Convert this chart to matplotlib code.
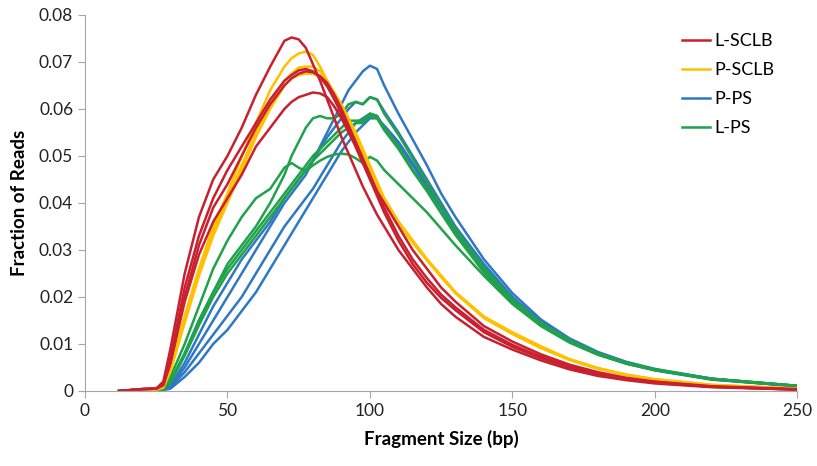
import matplotlib
matplotlib.use('Agg')
import matplotlib.pyplot as plt
from matplotlib.ticker import FixedLocator

plt.rcParams['font.family'] = ['Lato', 'DejaVu Sans']

# fragment size grid (bp)
sizes = [12, 20, 25, 27.5, 30, 35, 40, 45, 50, 55, 60, 65, 70, 72.5, 75, 77.5,
         80, 82.5, 85, 87.5, 90, 92.5, 95, 97.5, 100, 102.5, 105, 110, 115,
         120, 125, 130, 140, 150, 160, 170, 180, 190, 200, 220, 250]

# L-SCLB samples (red)
l_sclb_1 = [0, 0.0004, 0.0005, 0.002, 0.009, 0.025, 0.037, 0.045, 0.050, 0.056,
            0.063, 0.069, 0.0745, 0.0752, 0.0748, 0.073, 0.0695, 0.066, 0.062,
            0.058, 0.054, 0.0505, 0.047, 0.0435, 0.0405, 0.0375, 0.035, 0.030,
            0.026, 0.022, 0.0185, 0.0158, 0.0115, 0.0088, 0.0065, 0.0046,
            0.0032, 0.0023, 0.0016, 0.0008, 0.0003]
l_sclb_2 = [0, 0.0004, 0.0005, 0.0015, 0.007, 0.022, 0.033, 0.041, 0.047, 0.052,
            0.057, 0.062, 0.066, 0.0672, 0.0682, 0.0685, 0.068, 0.0668, 0.0648,
            0.062, 0.059, 0.0555, 0.052, 0.0485, 0.045, 0.0415, 0.038, 0.032,
            0.027, 0.023, 0.0198, 0.0172, 0.0125, 0.0094, 0.007, 0.005,
            0.0035, 0.0025, 0.0018, 0.0009, 0.0003]
l_sclb_3 = [0, 0.0004, 0.0005, 0.0015, 0.006, 0.020, 0.031, 0.039, 0.044, 0.050,
            0.056, 0.061, 0.065, 0.0665, 0.0675, 0.068, 0.0678, 0.067, 0.0655,
            0.063, 0.060, 0.0565, 0.053, 0.0495, 0.046, 0.0425, 0.039, 0.033,
            0.028, 0.024, 0.0205, 0.0178, 0.013, 0.0098, 0.0073, 0.0052,
            0.0037, 0.0026, 0.0019, 0.0009, 0.0003]
l_sclb_4 = [0, 0.0004, 0.0005, 0.0012, 0.006, 0.019, 0.029, 0.036, 0.041, 0.046,
            0.052, 0.056, 0.060, 0.0615, 0.0625, 0.063, 0.0635, 0.0633, 0.0625,
            0.0605, 0.058, 0.055, 0.052, 0.0485, 0.0455, 0.0425, 0.040, 0.035,
            0.030, 0.026, 0.022, 0.019, 0.0138, 0.0105, 0.0078, 0.0056,
            0.004, 0.0028, 0.002, 0.001, 0.0004]

# P-SCLB samples (yellow)
p_sclb_1 = [0, 0.0002, 0.0003, 0.0008, 0.005, 0.016, 0.026, 0.035, 0.042, 0.050,
            0.057, 0.064, 0.069, 0.0708, 0.0718, 0.0722, 0.0715, 0.069, 0.066,
            0.063, 0.060, 0.057, 0.054, 0.0505, 0.047, 0.044, 0.041, 0.036,
            0.032, 0.028, 0.0245, 0.021, 0.0158, 0.0125, 0.0095, 0.0068,
            0.0049, 0.0035, 0.0025, 0.0013, 0.0005]
p_sclb_2 = [0, 0.0002, 0.0003, 0.0008, 0.0045, 0.015, 0.025, 0.034, 0.041, 0.048,
            0.055, 0.061, 0.066, 0.0675, 0.0688, 0.069, 0.069, 0.068, 0.066,
            0.0635, 0.061, 0.058, 0.055, 0.0515, 0.048, 0.0445, 0.041, 0.036,
            0.032, 0.028, 0.0245, 0.021, 0.0158, 0.0123, 0.0093, 0.0067,
            0.0048, 0.0034, 0.0025, 0.0013, 0.0005]
p_sclb_3 = [0, 0.0002, 0.0003, 0.0007, 0.0042, 0.0145, 0.0245, 0.033, 0.040, 0.047,
            0.054, 0.060, 0.065, 0.0665, 0.0672, 0.0675, 0.0675, 0.0667, 0.065,
            0.0628, 0.060, 0.057, 0.054, 0.051, 0.0475, 0.044, 0.0405, 0.0355,
            0.0315, 0.0278, 0.0242, 0.0208, 0.0155, 0.0121, 0.0091, 0.0066,
            0.0047, 0.0034, 0.0024, 0.0012, 0.0005]

# P-PS samples (blue)
p_ps_1 = [0, 0, 0, 0.0004, 0.001, 0.005, 0.010, 0.015, 0.020, 0.025,
          0.030, 0.035, 0.040, 0.042, 0.044, 0.046, 0.049, 0.052, 0.055,
          0.058, 0.061, 0.064, 0.066, 0.068, 0.0692, 0.0685, 0.065, 0.059,
          0.0535, 0.048, 0.042, 0.037, 0.028, 0.0208, 0.0152, 0.0112,
          0.0083, 0.0062, 0.0047, 0.0026, 0.001]
p_ps_2 = [0, 0, 0, 0.0004, 0.0012, 0.006, 0.012, 0.018, 0.023, 0.028,
          0.032, 0.036, 0.041, 0.043, 0.045, 0.047, 0.049, 0.0515, 0.054,
          0.056, 0.058, 0.060, 0.0615, 0.061, 0.0625, 0.062, 0.0595, 0.055,
          0.050, 0.045, 0.040, 0.035, 0.027, 0.020, 0.0147, 0.0108,
          0.008, 0.006, 0.0045, 0.0025, 0.001]
p_ps_3 = [0, 0, 0, 0.0003, 0.0008, 0.004, 0.008, 0.012, 0.016, 0.020,
          0.025, 0.030, 0.035, 0.037, 0.039, 0.041, 0.043, 0.0455, 0.048,
          0.0505, 0.053, 0.055, 0.057, 0.058, 0.059, 0.0585, 0.056, 0.0525,
          0.048, 0.0435, 0.039, 0.034, 0.026, 0.0195, 0.0143, 0.0105,
          0.0078, 0.0058, 0.0044, 0.0024, 0.001]
p_ps_4 = [0, 0, 0, 0.0002, 0.0005, 0.003, 0.006, 0.010, 0.013, 0.017,
          0.021, 0.026, 0.031, 0.0335, 0.036, 0.0385, 0.041, 0.0435, 0.046,
          0.0485, 0.051, 0.053, 0.055, 0.0565, 0.058, 0.058, 0.0565, 0.053,
          0.0485, 0.044, 0.0395, 0.0345, 0.0265, 0.0198, 0.0145, 0.0107,
          0.008, 0.006, 0.0045, 0.0025, 0.001]

# L-PS samples (green)
l_ps_1 = [0, 0, 0, 0.0004, 0.002, 0.008, 0.015, 0.021, 0.027, 0.031,
          0.035, 0.040, 0.046, 0.050, 0.053, 0.056, 0.058, 0.0585, 0.058,
          0.058, 0.059, 0.061, 0.0615, 0.061, 0.0625, 0.062, 0.059, 0.0545,
          0.0495, 0.0445, 0.0395, 0.0345, 0.0262, 0.0195, 0.0145, 0.0108,
          0.008, 0.006, 0.0046, 0.0026, 0.0011]
l_ps_2 = [0, 0, 0, 0.0004, 0.002, 0.008, 0.015, 0.021, 0.026, 0.030,
          0.034, 0.038, 0.042, 0.044, 0.046, 0.048, 0.050, 0.0515, 0.053,
          0.0545, 0.056, 0.0575, 0.0575, 0.0575, 0.059, 0.0585, 0.056, 0.052,
          0.047, 0.043, 0.038, 0.0335, 0.0255, 0.019, 0.0142, 0.0106,
          0.0079, 0.006, 0.0045, 0.0026, 0.0011]
l_ps_3 = [0, 0, 0, 0.0004, 0.0018, 0.0075, 0.014, 0.020, 0.025, 0.029,
          0.033, 0.037, 0.041, 0.043, 0.045, 0.047, 0.049, 0.0505, 0.052,
          0.0535, 0.055, 0.056, 0.057, 0.057, 0.0585, 0.058, 0.0555, 0.0515,
          0.0468, 0.0425, 0.0378, 0.0332, 0.0252, 0.0188, 0.014, 0.0105,
          0.0078, 0.0059, 0.0045, 0.0026, 0.0011]
l_ps_4 = [0, 0, 0, 0.0005, 0.003, 0.010, 0.018, 0.026, 0.032, 0.037,
          0.041, 0.043, 0.0475, 0.0485, 0.0475, 0.0468, 0.048, 0.049, 0.0498,
          0.0503, 0.0505, 0.0503, 0.0495, 0.0485, 0.0498, 0.049, 0.047, 0.044,
          0.041, 0.038, 0.0345, 0.031, 0.0245, 0.0185, 0.0138, 0.0103,
          0.0077, 0.0058, 0.0044, 0.0025, 0.0011]

groups = [
    ('P-PS', '#2f78c4', [p_ps_1, p_ps_2, p_ps_3, p_ps_4]),
    ('L-PS', '#1fa24a', [l_ps_1, l_ps_2, l_ps_3, l_ps_4]),
    ('P-SCLB', '#ffc000', [p_sclb_1, p_sclb_2, p_sclb_3]),
    ('L-SCLB', '#c8202f', [l_sclb_1, l_sclb_2, l_sclb_3, l_sclb_4]),
]
legend_order = ['L-SCLB', 'P-SCLB', 'P-PS', 'L-PS']

fig, ax = plt.subplots(figsize=(8.17, 4.66), dpi=100)
fig.subplots_adjust(left=0.104, right=0.976, bottom=0.161, top=0.968)

handles = {}
for name, color, curves in groups:
    for i, ys in enumerate(curves):
        line, = ax.plot(sizes, ys, color=color, lw=1.8, solid_joinstyle='round')
        if i == 0:
            handles[name] = line

ax.set_xlim(0, 250)
ax.set_ylim(0, 0.08)
ax.xaxis.set_major_locator(FixedLocator([0, 50, 100, 150, 200, 250]))
ax.yaxis.set_major_locator(FixedLocator([0, 0.01, 0.02, 0.03, 0.04, 0.05, 0.06, 0.07, 0.08]))
ax.set_yticklabels(['0', '0.01', '0.02', '0.03', '0.04', '0.05', '0.06', '0.07', '0.08'])

for side in ['top', 'right']:
    ax.spines[side].set_visible(False)
for side in ['left', 'bottom']:
    ax.spines[side].set_color('#a6a6a6')
ax.tick_params(axis='both', colors='#a6a6a6', labelcolor='#222222',
               labelsize=12.5, length=5, direction='out')

ax.set_xlabel('Fragment Size (bp)', fontsize=13.5, fontweight='bold', labelpad=8)
ax.set_ylabel('Fraction of Reads', fontsize=13.5, fontweight='bold', labelpad=8)

ax.legend([handles[n] for n in legend_order], legend_order, loc='upper right',
          bbox_to_anchor=(0.99, 0.995), frameon=False, fontsize=13,
          handlelength=1.6, handletextpad=0.2, labelspacing=0.72)

fig.savefig('out.png', dpi=100)
